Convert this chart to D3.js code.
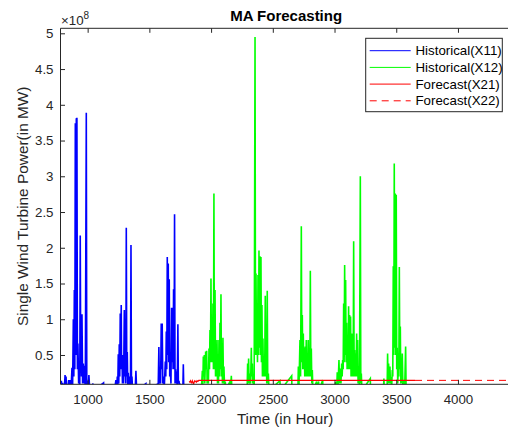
<!DOCTYPE html>
<html>
<head>
<meta charset="utf-8">
<script src="https://cdn.jsdelivr.net/npm/d3@7"></script>
<style>
body { margin: 0; background: #fff; }
text { font-family: "Liberation Sans", Arial, sans-serif; }
</style>
</head>
<body>
<script>
// values in units of 1e8, time in hours
var x11 = [[780,0.14],[783,0.02],[787,0.14],[791,0],[797,0.11],[801,0],[812,0.06],[817,0.22],[821,0.1],[825,0.2],[829,0],
  [840,0.05],[846,0.15],[850,0.08],[856,0.15],[861,0],[868,0.12],[873,0.32],[878,0.05],[884,1.0],[888,0.2],[892,1.41],
  [896,0.3],[900,3.74],[904,0.5],[908,3.81],[911,1.0],[913,3.82],[917,0.3],[921,0.66],[927,0.1],[932,0.2],[936,0.05],
  [940,2.17],[944,0.3],[947,0.6],[950,0.2],[954,1.07],[959,0.1],[965,0.38],[969,0.1],[973,0.35],[977,0.15],[981,0.05],
  [989,3.89],[993,0.1],[996,0.05],[1002,0.14],[1006,0.05],[1010,0.22],[1014,0.1],[1018,0],[1043,0.1],[1047,0],
  [1129,0.11],[1133,0],[1221,0.05],[1229,0.15],[1235,0],[1240,0.2],[1244,0.05],[1248,0.51],[1252,0.1],[1256,0.65],
  [1260,0.2],[1264,1.08],[1268,0.3],[1272,1.2],[1275,0.3],[1278,0.5],[1282,0.1],[1286,0.5],[1291,0.1],[1297,1.13],
  [1301,0.2],[1305,0.4],[1309,0.1],[1313,2.28],[1317,0.2],[1321,0.54],[1325,0.05],[1329,0.25],[1335,0.05],[1343,0.2],
  [1347,0.05],[1351,2.04],[1355,0.1],[1359,0.2],[1364,0],[1386,0.05],[1391,0.28],[1397,0],[1472,0.1],[1476,0],
  [1572,0.1],[1577,0.61],[1581,0.1],[1586,0.2],[1591,0.1],[1596,0.94],[1600,0.3],[1604,0.94],[1609,0.1],[1613,0.2],
  [1621,0.05],[1629,0.41],[1633,0.2],[1637,0.83],[1641,0.3],[1645,1.87],[1649,0.5],[1653,1.78],[1657,0.4],[1661,1.56],
  [1665,0.2],[1669,0.29],[1675,0.1],[1680,1.16],[1684,0.4],[1688,1.16],[1692,0.3],[1696,1.42],[1700,0.3],[1704,2.47],
  [1708,0.1],[1712,0.3],[1716,0.1],[1721,0.27],[1726,0.05],[1731,0.93],[1735,0.1],[1740,0.14],[1745,0.05],[1748,0.1],
  [1756,0],[1771,0],[1775,0.37],[1779,0],[1790,0]];

var x12 = [[1850,0],[1870,0.02],[1900,0],[1924,0.1],[1929,0.28],[1933,0.05],[1937,0.48],[1941,0.2],[1945,0.5],[1949,0.1],
  [1956,0.55],[1960,0.3],[1964,0.56],[1968,0.1],[1972,0.29],[1978,0.1],[1983,0.59],[1987,0.3],[1991,0.85],[1995,0.4],
  [1999,1.57],[2003,0.4],[2007,0.77],[2011,0.4],[2015,1.22],[2019,0.3],[2023,2.76],[2027,0.3],[2032,1.41],[2036,0.2],
  [2040,0.52],[2044,0.2],[2048,0.71],[2052,0.1],[2056,0.29],[2060,0.1],[2064,0.71],[2068,0.2],[2072,0.95],[2076,0.3],
  [2080,1.35],[2084,0.2],[2088,0.52],[2092,0.1],[2096,0.74],[2100,0.1],[2104,0.34],[2110,0],[2115,0.13],[2118,0],
  [2153,0.13],[2156,0],[2164,0.21],[2169,0],
  [2292,0],[2296,0.38],[2300,0.1],[2304,0.45],[2308,0.1],[2315,0.24],[2320,0.1],[2326,0.6],[2330,0.2],[2334,0.38],
  [2338,0.1],[2342,0.17],[2349,0.05],[2356,4.95],[2360,0.5],[2364,1.64],[2368,0.5],[2372,0.97],[2376,0.4],[2380,1.62],
  [2384,0.5],[2388,1.96],[2392,0.6],[2396,1.88],[2400,0.5],[2404,1.87],[2408,0.4],[2412,1.2],[2416,0.2],[2420,0.73],
  [2424,0.2],[2428,0.48],[2434,0.2],[2439,1.33],[2443,0.2],[2447,0.52],[2451,0.1],[2455,1.4],[2459,0.1],[2464,0.24],
  [2469,0],[2558,0.14],[2561,0],[2653,0.21],[2655,0],
  [2703,0],[2707,0.34],[2712,0.05],[2720,0.71],[2725,0.2],[2731,2.3],[2735,0.4],[2739,1.06],[2743,0.3],[2747,0.8],
  [2751,0.3],[2755,0.6],[2759,0.2],[2763,0.62],[2767,0.2],[2771,0.71],[2775,0.2],[2779,0.52],[2783,0.2],[2787,0.71],
  [2791,0.2],[2796,0.52],[2800,0.2],[2804,1.68],[2808,0.2],[2812,0.59],[2816,0.1],[2820,0.29],[2825,0],[2855,0.13],
  [2858,0],[2871,0.13],[2874,0],[2904,0.15],[2906,0],
  [3003,0],[3008,0.12],[3012,0],[3018,0],[3022,0.26],[3028,0.05],[3036,0.43],[3041,0.1],[3047,0.31],[3052,0.1],
  [3058,0.38],[3062,0.2],[3066,0.43],[3070,0.3],[3074,1.22],[3078,0.4],[3082,1.76],[3086,0.5],[3090,1.55],[3094,0.4],
  [3098,0.95],[3102,0.3],[3106,0.75],[3110,0.3],[3114,1.18],[3118,0.3],[3122,1.06],[3126,0.3],[3130,1.04],[3134,0.2],
  [3139,0.8],[3143,0.2],[3147,0.48],[3151,0.2],[3155,2.09],[3159,0.2],[3163,0.57],[3167,0.2],[3171,0.52],[3175,0.2],
  [3179,0.8],[3183,0.2],[3187,0.71],[3191,0.1],[3195,0.34],[3202,0.05],[3209,3.0],[3213,0.1],[3217,0.24],[3222,0],
  [3290,0.17],[3292,0],
  [3396,0],[3400,0.17],[3404,0],[3426,0],[3430,0.52],[3434,0.1],[3438,0.38],[3444,0.1],[3449,0.34],[3453,0.1],
  [3457,0.19],[3463,0.05],[3468,0.29],[3472,0.2],[3476,1.74],[3480,0.5],[3484,3.18],[3488,0.6],[3492,2.76],[3496,0.5],
  [3500,2.74],[3504,0.3],[3508,0.6],[3512,0.1],[3517,0.31],[3521,0.2],[3525,1.73],[3529,0.3],[3533,0.9],[3537,0.1],
  [3541,0.31],[3545,0.1],[3549,0.52],[3554,0.05],[3560,0.15],[3568,0],[3576,0.62],[3580,0],[3600,0]];

var x21 = [[1822,0.13],[1828,0.12],[1833,0.14],[1838,0.12],[1843,0.11],[1848,0.14],[1853,0.12],[1858,0.09],
  [1863,0.12],[1868,0.14],[1874,0.13],[1880,0.12],[1886,0.14],[1893,0.13],[1900,0.145],[3652,0.145]];
var x22 = [[3652,0.145],[4420,0.145]];

var xTicks = [1000, 1500, 2000, 2500, 3000, 3500, 4000];
var yTicks = [0.5, 1, 1.5, 2, 2.5, 3, 3.5, 4, 4.5, 5];
var legendLabels = ["Historical(X11)", "Historical(X12)", "Forecast(X21)", "Forecast(X22)"];

var totalWidth = 508, totalHeight = 428;
var plot = {left: 60.5, top: 28.3, right: 509.8, bottom: 384.3};
var axisColor = "#262626";

var x = d3.scaleLinear().domain([780, 4420]).range([plot.left, plot.right]);
var y = d3.scaleLinear().domain([0.09, 5.07]).range([plot.bottom, plot.top]);

var svg = d3.select("body").append("svg")
  .attr("width", totalWidth)
  .attr("height", totalHeight);

svg.append("rect").attr("width", totalWidth).attr("height", totalHeight).attr("fill", "#fff");

svg.append("defs").append("clipPath").attr("id", "plotClip")
  .append("rect")
  .attr("x", plot.left).attr("y", plot.top)
  .attr("width", plot.right - plot.left).attr("height", plot.bottom - plot.top);

var line = d3.line()
  .x(function(d) { return x(d[0]); })
  .y(function(d) { return y(d[1]); });

var series = [
  {data: x11, color: "#0000ff", dash: null, w: 1.6},
  {data: x12, color: "#00ff00", dash: null, w: 1.6},
  {data: x21, color: "#ff0000", dash: null, w: 1.2},
  {data: x22, color: "#ff0000", dash: "7,5", w: 1}
];

var lines = svg.append("g").attr("clip-path", "url(#plotClip)");
series.forEach(function(s) {
  lines.append("path")
    .datum(s.data)
    .attr("d", line)
    .attr("fill", "none")
    .attr("stroke", s.color)
    .attr("stroke-width", s.w)
    .attr("stroke-linejoin", "miter")
    .attr("stroke-dasharray", s.dash);
});

// axes
var xAxis = svg.append("g")
  .attr("transform", "translate(0," + plot.bottom + ")")
  .call(d3.axisBottom(x).tickValues(xTicks).tickSizeInner(-4.5).tickSizeOuter(0)
    .tickPadding(10).tickFormat(d3.format("d")));
var xAxisTop = svg.append("g")
  .attr("transform", "translate(0," + plot.top + ")")
  .call(d3.axisTop(x).tickValues(xTicks).tickSizeInner(-4.5).tickSizeOuter(0).tickFormat(""));
var yAxis = svg.append("g")
  .attr("transform", "translate(" + plot.left + ",0)")
  .call(d3.axisLeft(y).tickValues(yTicks).tickSizeInner(-4.5).tickSizeOuter(0)
    .tickPadding(7).tickFormat(function(d) { return String(d); }));

[xAxis, xAxisTop, yAxis].forEach(function(g) {
  g.attr("font-size", 13.3).attr("font-family", "Liberation Sans, Arial, sans-serif");
  g.select(".domain").remove();
  g.selectAll(".tick line").attr("stroke", axisColor);
  g.selectAll(".tick text").attr("fill", axisColor);
});

// box
svg.append("path")
  .attr("d", "M" + plot.left + "," + plot.bottom + "H" + plot.right +
             "M" + plot.left + "," + plot.top + "H" + plot.right +
             "M" + plot.left + "," + plot.top + "V" + plot.bottom)
  .attr("stroke", axisColor).attr("stroke-width", 1).attr("fill", "none");

// exponent
var expo = svg.append("text").attr("x", 61).attr("y", 25).attr("font-size", 13.3).attr("fill", axisColor);
expo.append("tspan").text("\u00d710");
expo.append("tspan").attr("dy", -6).attr("font-size", 10).text("8");

svg.append("text")
  .attr("x", (plot.left + plot.right) / 2 + 1).attr("y", 20.5)
  .attr("text-anchor", "middle")
  .attr("font-size", 15).attr("font-weight", "bold").attr("fill", "#000")
  .text("MA Forecasting");

svg.append("text")
  .attr("x", (plot.left + plot.right) / 2).attr("y", 424)
  .attr("text-anchor", "middle")
  .attr("font-size", 15.2).attr("fill", axisColor)
  .text("Time (in Hour)");

svg.append("text")
  .attr("transform", "translate(28," + (plot.top + plot.bottom) / 2 + ") rotate(-90)")
  .attr("text-anchor", "middle")
  .attr("font-size", 15.4).attr("fill", axisColor)
  .text("Single Wind Turbine Power(in MW)");

// legend
var legend = svg.append("g");
legend.append("rect")
  .attr("x", 365.7).attr("y", 38.3).attr("width", 136.6).attr("height", 73.4)
  .attr("fill", "#fff").attr("stroke", axisColor).attr("stroke-width", 1);

var items = legend.selectAll(".item").data(series).enter().append("g")
  .attr("class", "item")
  .attr("transform", function(d, i) { return "translate(0," + (50.7 + i * 16.7) + ")"; });
items.append("line")
  .attr("x1", 369.7).attr("x2", 410.7)
  .attr("stroke", function(d) { return d.color; })
  .attr("stroke-width", 1)
  .attr("stroke-dasharray", function(d) { return d.dash; });
items.append("text")
  .attr("x", 415.5).attr("y", 4.6)
  .attr("font-size", 13.3).attr("fill", "#000")
  .text(function(d, i) { return legendLabels[i]; });
</script>
</body>
</html>
